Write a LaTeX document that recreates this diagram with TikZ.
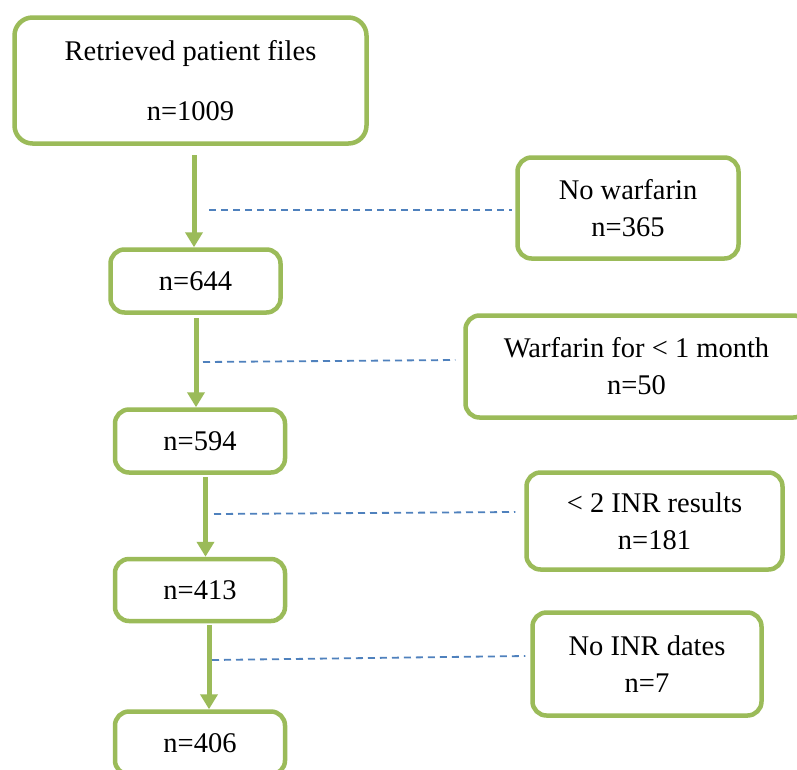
\documentclass[tikz,border=0pt]{standalone}
\usepackage{fontspec}
\setmainfont{Liberation Serif}
\usetikzlibrary{arrows.meta,calc}
\definecolor{boxgreen}{HTML}{9BBB59}
\definecolor{dashblue}{HTML}{4F81BD}
\begin{document}
\begin{tikzpicture}[x=1pt,y=-1pt,
  box/.style={draw=boxgreen, line width=4.5pt, rounded corners=14pt, fill=white, align=center, inner sep=0pt, font=\fontsize{28.5}{37}\selectfont},
  flow/.style={draw=boxgreen, line width=5pt, -{Triangle[width=17pt,length=15pt]}},
  excl/.style={draw=dashblue, line width=1.8pt, dash pattern=on 7pt off 5pt}]
\clip (0,0) rectangle (797,769);
\fill[white] (0,0) rectangle (797,769);
% main column
\node[box, minimum width=352pt, minimum height=126pt, rounded corners=18pt] (top) at (190.5,80.5) {Retrieved patient files\\[23pt]n=1009};
\node[box, minimum width=170pt, minimum height=63pt] (n644) at (195.5,281) {n=644};
\node[box, minimum width=170pt, minimum height=63pt] (n594) at (200,441) {n=594};
\node[box, minimum width=170pt, minimum height=62pt] (n413) at (200,590) {n=413};
\node[box, minimum width=170pt, minimum height=63pt] (n406) at (200,743) {n=406};
% exclusion boxes
\node[box, minimum width=221pt, minimum height=101pt] (nowarf) at (628,208) {No warfarin\\n=365};
\node[box, minimum width=342pt, minimum height=102pt] (warf) at (636.5,366.5) {Warfarin for < 1 month\\n=50};
\node[box, minimum width=256pt, minimum height=97pt] (inr2) at (654.5,521) {< 2 INR results\\n=181};
\node[box, minimum width=229pt, minimum height=103pt] (noinr) at (647,664) {No INR dates\\n=7};
% arrow starts
\coordinate (a1) at (194,155);
\coordinate (a2) at (196,318);
\coordinate (a3) at (205.5,477);
\coordinate (a4) at (209,625);
\draw[flow] (a1) -- (a1 |- n644.north);
\draw[flow] (a2) -- (a2 |- n594.north);
\draw[flow] (a3) -- (a3 |- n413.north);
\draw[flow] (a4) -- (a4 |- n406.north);
% dashed exclusion links
\coordinate (d1) at (209,210);
\coordinate (d2) at (203,362);
\coordinate (d3) at (214,514);
\coordinate (d4) at (212,660);
\draw[excl] (d1) -- ([shift={(-3,2)}]nowarf.west);
\draw[excl] (d2) -- ([shift={(-8,-6.5)}]warf.west);
\draw[excl] (d3) -- ([shift={(-9,-9)}]inr2.west);
\draw[excl] (d4) -- ([shift={(-5,-8)}]noinr.west);
\end{tikzpicture}
\end{document}
